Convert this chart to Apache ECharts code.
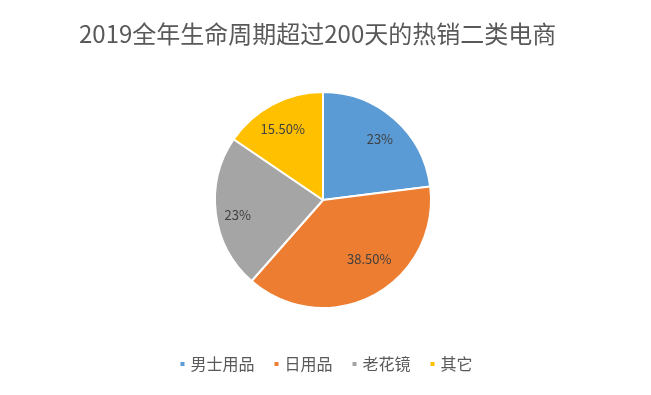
<!DOCTYPE html>
<html><head><meta charset="utf-8">
<script src="https://cdn.jsdelivr.net/npm/echarts@6/dist/echarts.min.js"></script>
<style>html,body{margin:0;padding:0;background:#fff}#c{width:651px;height:395px}</style>
</head><body><div id="c"></div>
<script>
const titleText = '2019全年生命周期超过200天的热销二类电商';
const categories = ['男士用品', '日用品', '老花镜', '其它'];
const values = [23, 38.5, 23, 15.5];
const labels = ['23%', '38.50%', '23%', '15.50%'];
const colors = ['#5B9BD5', '#ED7D31', '#A5A5A5', '#FFC000'];

const font = '"Noto Sans CJK SC", "Noto Sans", sans-serif';
const chart = echarts.init(document.getElementById('c'), null, {renderer: 'canvas'});
const data = categories.map((n, i) => ({name: n, value: values[i], itemStyle: {color: colors[i]}}));
chart.setOption({
  animation: false,
  backgroundColor: '#fff',
  title: {text: titleText, left: 74, top: 17,
    textStyle: {fontFamily: font, fontSize: 24, fontWeight: 'normal', color: '#595959'}},
  legend: {data: categories, bottom: 18, left: 'center', icon: 'rect', itemWidth: 6, itemHeight: 6,
    itemGap: 18, textStyle: {fontFamily: font, fontSize: 16, color: '#595959'}},
  series: [
    {type: 'pie', center: [323, 200], radius: [0, 108], startAngle: 90, clockwise: true,
     label: {show: false}, labelLine: {show: false},
     itemStyle: {borderColor: '#fff', borderWidth: 2}, data: data},
    {type: 'pie', center: [323, 200], radius: [58, 108], startAngle: 90, clockwise: true, silent: true,
     itemStyle: {color: 'rgba(0,0,0,0)', borderWidth: 0},
     label: {show: true, position: 'inside', fontFamily: font, fontSize: 13, color: '#404040',
       formatter: p => labels[p.dataIndex]},
     labelLine: {show: false},
     data: categories.map((n, i) => ({name: n, value: values[i], itemStyle: {color: 'rgba(0,0,0,0)'},
       label: i === 1 ? {offset: [6, -17]} : (i === 3 ? {offset: [0, 5]} : {offset: [0, 4]})}))}
  ]
});
</script></body></html>
